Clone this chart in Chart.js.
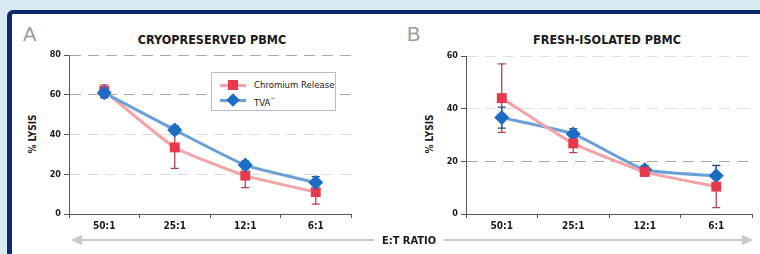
<!DOCTYPE html>
<html>
<head>
<meta charset="utf-8">
<script src="https://cdn.jsdelivr.net/npm/chart.js@4.4.1/dist/chart.umd.min.js"></script>
<style>
    body { margin: 0; width: 760px; height: 254px; background: #d8eaf2; overflow: hidden; position: relative;
        font-family: "DejaVu Sans Condensed", "Liberation Sans Narrow", sans-serif; }
    .panel { position: absolute; left: 7px; top: 10px; width: 760px; height: 260px; background: #fff;
        border-left: 5px solid #0c2b6c; border-top: 4px solid #0c2b6c; border-top-left-radius: 6px; }
    .abs { position: absolute; }
    .letter { font-family: "Liberation Sans", Arial, sans-serif; font-size: 20px; color: #9a9a9a; }
    .title { font-weight: bold; font-size: 12.5px; color: #1a1a1a; transform: translateX(-50%); white-space: nowrap; }
    .ylab { font-weight: bold; font-size: 10px; color: #1a1a1a; transform: translate(-50%, -50%) rotate(-90deg); white-space: nowrap; }
    .legend { left: 211px; top: 72px; width: 125px; height: 39px; border: 1px solid #b8bcc4; background: #fff;
        font-size: 9.5px; color: #1a1a1a; box-sizing: border-box; }
    .item { position: absolute; left: 8px; height: 12px; line-height: 12px; white-space: nowrap; }
    .item .ln { position: absolute; left: 0; top: 5px; width: 26px; height: 3px; }
    .item .mk { position: absolute; left: 8px; top: 1px; width: 10px; height: 10px; }
    .item .tx { position: absolute; left: 34px; top: 0; }
    .etl { font-weight: bold; font-size: 11px; color: #1a1a1a; white-space: nowrap; transform: translate(-50%, -50%); }
    canvas { display: block; }
</style>
</head>
<body>
<div class="panel"></div>

<div class="abs letter" style="left:23px; top:23px;">A</div>
<div class="abs letter" style="left:407px; top:23px;">B</div>
<div class="abs title" style="left:212px; top:32px;">CRYOPRESERVED PBMC</div>
<div class="abs title" style="left:607px; top:32px;">FRESH-ISOLATED PBMC</div>
<div class="abs ylab" style="left:32px; top:134px;">% LYSIS</div>
<div class="abs ylab" style="left:429px; top:134px;">% LYSIS</div>

<div class="abs" style="left:12px; top:14px; width:356px; height:220px;"><canvas id="chartA" width="356" height="220"></canvas></div>
<div class="abs" style="left:380px; top:14px; width:380px; height:220px;"><canvas id="chartB" width="380" height="220"></canvas></div>

<div class="abs legend">
    <div class="item" style="top:6px;"><div class="ln" style="background:#f4a3a8;"></div><div class="mk" style="background:#e8384c;"></div><div class="tx">Chromium Release</div></div>
    <div class="item" style="top:21px;"><div class="ln" style="background:#6b9fd8;"></div><div class="mk" style="background:#1a6cc4; transform:rotate(45deg) scale(0.95);"></div><div class="tx">TVA<sup style="font-size:6px;">™</sup></div></div>
</div>

<svg class="abs" style="left:0; top:0;" width="760" height="254">
    <line x1="78" y1="240" x2="374" y2="240" stroke="#c9c9c9" stroke-width="2"/>
    <polygon points="71,240 82,235 82,245" fill="#c9c9c9"/>
    <line x1="444" y1="240" x2="745" y2="240" stroke="#c9c9c9" stroke-width="2"/>
    <polygon points="753,240 742,235 742,245" fill="#c9c9c9"/>
</svg>
<div class="abs etl" style="left:409px; top:240px;">E:T RATIO</div>

<script>
    const ratios = ['50:1', '25:1', '12:1', '6:1'];

    // panel A - cryopreserved
    const cryoChromium = [62, 33.5, 19.3, 11];
    const cryoChromiumErr = [3, 10.5, 6, 6];
    const cryoTva = [61, 42.3, 24.6, 15.8];
    const cryoTvaErr = [2.5, 2, 2, 3];
    const cryoTicks = [0, 20, 40, 60, 80];

    // panel B - fresh isolated
    const freshChromium = [44, 26.8, 16, 10.4];
    const freshChromiumErr = [13, 3.5, 1.5, 8];
    const freshTva = [36.6, 30.4, 16.8, 14.5];
    const freshTvaErr = [4, 2, 1.5, 4];
    const freshTicks = [0, 20, 40, 60];

    const redLine = '#f4a3a8';
    const redMark = '#e8384c';
    const redErr = '#b6404f';
    const blueLine = '#6b9fd8';
    const blueMark = '#1a6cc4';
    const blueErr = '#1f4f92';

    const errorBars = {
        id: 'errorBars',
        beforeDatasetsDraw(chart) {
            const { ctx } = chart;
            const y = chart.scales.y;
            chart.data.datasets.forEach((ds, i) => {
                const meta = chart.getDatasetMeta(i);
                ctx.save();
                ctx.strokeStyle = ds.errColor;
                ctx.lineWidth = 1.3;
                meta.data.forEach((pt, j) => {
                    const e = ds.errors[j];
                    const top = y.getPixelForValue(ds.data[j] + e);
                    const bot = y.getPixelForValue(ds.data[j] - e);
                    ctx.beginPath();
                    ctx.moveTo(pt.x, top);
                    ctx.lineTo(pt.x, bot);
                    ctx.moveTo(pt.x - 4, top);
                    ctx.lineTo(pt.x + 4, top);
                    ctx.moveTo(pt.x - 4, bot);
                    ctx.lineTo(pt.x + 4, bot);
                    ctx.stroke();
                });
                ctx.restore();
            });
        },
    };

    const makeChart = (id, chromium, chromiumErr, tva, tvaErr, ticks, darkLines, pad, tvaOnTop) => {
        const maxY = ticks[ticks.length - 1];
        return new Chart(document.getElementById(id), {
            type: 'line',
            data: {
                labels: ratios,
                datasets: [
                    {
                        label: 'Chromium Release',
                        data: chromium,
                        errors: chromiumErr,
                        errColor: redErr,
                        borderColor: redLine,
                        backgroundColor: redMark,
                        borderWidth: 3,
                        pointStyle: 'rect',
                        pointRadius: 7,
                        pointHoverRadius: 7,
                        pointBorderWidth: 0,
                        tension: 0.15,
                        order: tvaOnTop ? 2 : 1,
                    },
                    {
                        label: 'TVA™',
                        data: tva,
                        errors: tvaErr,
                        errColor: blueErr,
                        borderColor: blueLine,
                        backgroundColor: blueMark,
                        borderWidth: 3,
                        pointStyle: 'rectRot',
                        pointRadius: 7.5,
                        pointHoverRadius: 7.5,
                        pointBorderWidth: 0,
                        tension: 0.15,
                        order: tvaOnTop ? 1 : 2,
                    },
                ],
            },
            options: {
                responsive: false,
                animation: false,
                events: [],
                layout: { padding: pad },
                plugins: { legend: { display: false }, title: { display: false }, tooltip: { enabled: false } },
                scales: {
                    x: {
                        offset: true,
                        afterFit: (s) => { s.height = 20; },
                        grid: { offset: true, drawOnChartArea: false, tickLength: 4, color: '#555' },
                        border: { color: '#555', width: 1 },
                        ticks: { padding: 2, color: '#1a1a1a', font: { family: 'DejaVu Sans Condensed', size: 10, weight: 'bold' } },
                    },
                    y: {
                        min: 0,
                        max: maxY,
                        afterFit: (s) => { s.width = 28; },
                        afterBuildTicks: (s) => { s.ticks = ticks.map((v) => ({ value: v })); },
                        grid: {
                            tickLength: 5,
                            tickColor: '#555',
                            lineWidth: 1,
                            color: (c) => (darkLines.includes(c.tick && c.tick.value) ? '#a9a9a9' : '#dedede'),
                        },
                        border: { color: '#555', width: 1, dash: [11, 7] },
                        ticks: { padding: 3, color: '#1a1a1a', font: { family: 'DejaVu Sans Condensed', size: 9, weight: 'bold' } },
                    },
                },
            },
            plugins: [errorBars],
        });
    };

    makeChart('chartA', cryoChromium, cryoChromiumErr, cryoTva, cryoTvaErr, cryoTicks, [60, 80],
        { left: 29, top: 41, right: 17, bottom: 0 }, true);
    makeChart('chartB', freshChromium, freshChromiumErr, freshTva, freshTvaErr, freshTicks, [20],
        { left: 58, top: 42, right: 8, bottom: 0 }, false);
</script>
</body>
</html>
